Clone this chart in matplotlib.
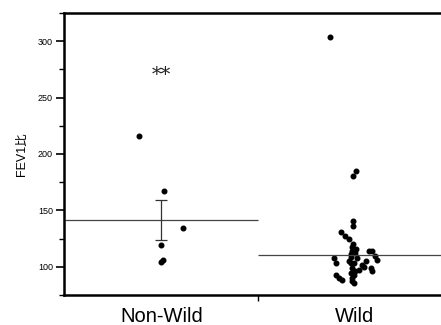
import matplotlib
matplotlib.use("Agg")
import matplotlib.pyplot as plt
from matplotlib.ticker import MultipleLocator

plt.rcParams['font.family'] = ['Liberation Sans', 'Noto Sans CJK JP', 'DejaVu Sans']

# dados
categorias = ["Non-Wild", "Wild"]

nonwild_vals = [216, 167, 134.5, 119.5, 106, 104]
nonwild_jit = [-0.114, 0.016, 0.114, 0.0, 0.006, -0.004]

wild_vals = [303.5, 185, 180.5, 141, 136, 131, 127, 124.5, 120.4, 117.5,
             115.7, 113.6, 113.6, 113.6, 112.1, 111, 110, 109.1, 107.7, 107.7,
             106.2, 105, 104.8, 103.3, 103.3, 103.3, 101.8, 100, 98.8, 98.8,
             97.3, 96, 95.9, 94.4, 92.9, 92.9, 90, 88.5, 90, 87.1, 85.7]
wild_jit = [-0.125, 0.01, -0.005, -0.005, -0.005, -0.067, -0.047, -0.026, -0.005, -0.01,
            0.01, -0.01, 0.078, 0.093, 0.005, -0.015, 0.109, -0.016, -0.104, 0.016,
            0.119, -0.026, 0.062, -0.093, -0.016, 0.0, 0.041, 0.052, -0.01, 0.088,
            0.026, 0.005, 0.093, -0.016, -0.093, 0.0, -0.078, -0.062, -0.01, -0.01, 0.0]

nonwild_media = 141.5
nonwild_sem = 17.5
wild_media = 110.5

fig = plt.figure(figsize=(4.41, 3.25), dpi=100)
ax = fig.add_axes([64 / 441, 30 / 325, 1 - 64 / 441, 282 / 325])

ax.plot(nonwild_jit, nonwild_vals, "o", color="k", markersize=3.3, linestyle="none")
ax.plot([1 + j for j in wild_jit], wild_vals, "o", color="k", markersize=3.3, linestyle="none")

# linhas de media
ax.hlines(nonwild_media, -0.5, 0.5, color="#444444", linewidth=0.9)
ax.hlines(wild_media, 0.5, 1.5, color="#444444", linewidth=0.9)
ax.errorbar([0], [nonwild_media], yerr=[nonwild_sem], fmt="none", ecolor="#333333",
            elinewidth=0.9, capsize=4, capthick=0.9)

ax.text(0, 270, "**", ha="center", va="center", fontsize=14, color="#222222",
        family=["DejaVu Serif"])

ax.set_xlim(-0.505, 1.45)
ax.set_ylim(75, 325)
ax.set_xticks([0.5])
ax.set_xticklabels([""])
ax.tick_params(axis="x", length=4, width=1, direction="out")
for x, nome in enumerate(categorias):
    ax.text(x, -27 / 282, nome, ha="center", va="baseline", fontsize=14.5,
            transform=ax.get_xaxis_transform(), clip_on=False)

ax.yaxis.set_major_locator(MultipleLocator(50))
ax.yaxis.set_minor_locator(MultipleLocator(25))
ax.set_yticks([100, 150, 200, 250, 300])
ax.tick_params(axis="y", which="major", length=6, width=1.2, labelsize=6.5, pad=2)
ax.tick_params(axis="y", which="minor", length=3.5, width=1)
ax.set_ylabel("FEV1比", fontsize=9, labelpad=7)

for lado in ["left", "top", "bottom"]:
    ax.spines[lado].set_linewidth(1.8)
ax.spines["right"].set_visible(False)

fig.savefig("out.png", dpi=100)
